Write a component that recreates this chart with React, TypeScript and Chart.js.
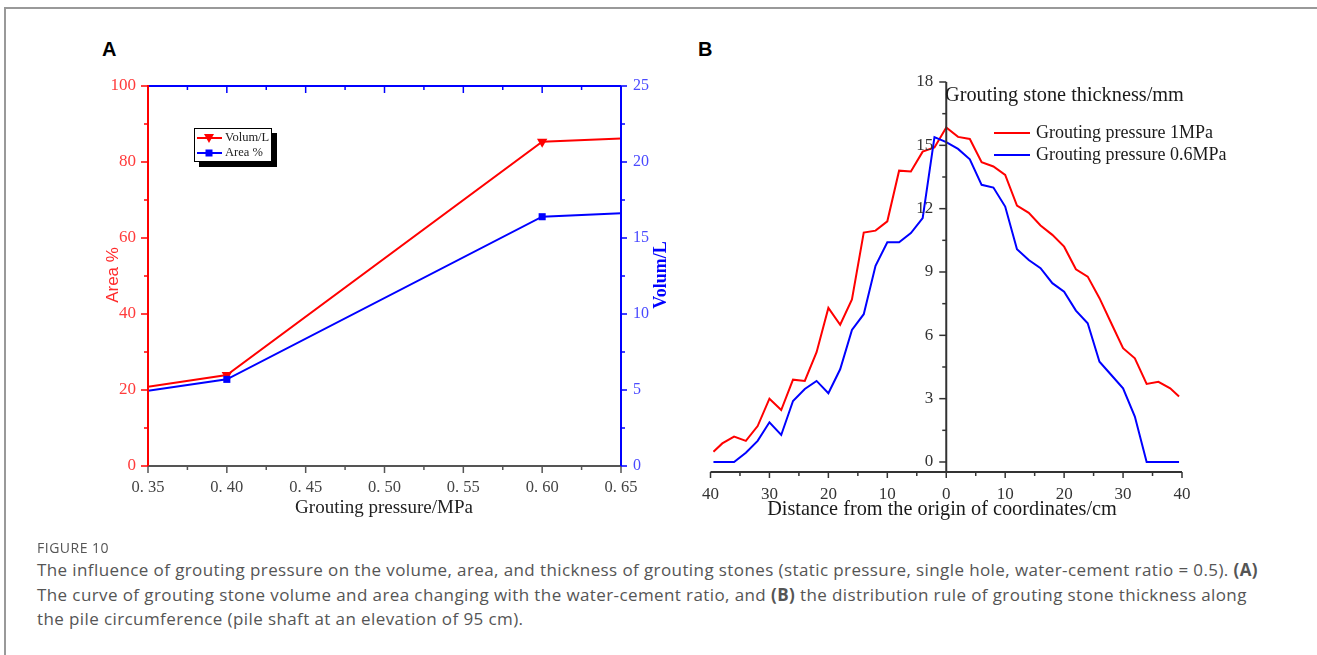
import React, { useEffect, useRef } from 'react';
import { Chart, registerables } from 'chart.js';

Chart.register(...registerables);

const SERIF = "'Liberation Serif', 'Times New Roman', serif";
const SANS = "'Liberation Sans', Arial, sans-serif";
const RED = '#ff0000';
const BLUE = '#0000ff';

// ---------- Panel A data ----------
const PRESSURE_MPA = [0.35, 0.4, 0.6, 0.65];
const AREA_PCT = [19.8, 22.8, 65.6, 66.5];
const VOLUME_L = [5.22, 5.98, 21.33, 21.55];
const A_X_TICKS = [0.35, 0.4, 0.45, 0.5, 0.55, 0.6, 0.65];
const A_AREA_TICKS = [0, 20, 40, 60, 80, 100];
const A_VOLUME_TICKS = [0, 5, 10, 15, 20, 25];

// ---------- Panel B data ----------
const DISTANCE_CM = [
  -39.5, -38, -36, -34, -32, -30, -28, -26, -24, -22, -20, -18, -16, -14, -12, -10, -8, -6, -4, -2,
  0, 2, 4, 6, 8, 10, 12, 14, 16, 18, 20, 22, 24, 26, 28, 30, 32, 34, 36, 38, 39.5,
];
const THICK_1MPA = [
  0.49, 0.88, 1.2, 1.0, 1.7, 3.0, 2.46, 3.9, 3.84, 5.2, 7.3, 6.5, 7.7, 10.87, 10.96, 11.4, 13.8, 13.76, 14.7, 14.9,
  15.85, 15.4, 15.3, 14.2, 14.0, 13.6, 12.15, 11.8, 11.2, 10.76, 10.2, 9.13, 8.78, 7.76, 6.57, 5.39, 4.91, 3.7, 3.8, 3.49, 3.1,
];
const THICK_06MPA = [
  0, 0, 0, 0.44, 1.0, 1.88, 1.28, 2.89, 3.46, 3.84, 3.26, 4.39, 6.26, 7.0, 9.29, 10.41, 10.41, 10.84, 11.55, 15.39,
  15.15, 14.83, 14.34, 13.13, 13.0, 12.1, 10.08, 9.57, 9.18, 8.47, 8.07, 7.17, 6.57, 4.75, 4.12, 3.49, 2.15, 0, 0, 0, 0,
];
const B_X_TICKS = [-40, -30, -20, -10, 0, 10, 20, 30, 40];
const B_Y_TICKS = [0, 3, 6, 9, 12, 15, 18];

const A_LEFT = 60, A_TOP = 60, A_W = 660, A_H = 480;
const B_LEFT = 690, B_TOP = 60, B_W = 560, B_H = 480;

function line(ctx: CanvasRenderingContext2D, x1: number, y1: number, x2: number, y2: number) {
  ctx.beginPath();
  ctx.moveTo(x1, y1);
  ctx.lineTo(x2, y2);
  ctx.stroke();
}

function text(
  ctx: CanvasRenderingContext2D, s: string, x: number, y: number, font: string, color: string,
  align: CanvasTextAlign = 'center', rot = 0,
) {
  ctx.save();
  ctx.translate(x, y);
  ctx.rotate(rot);
  ctx.font = font;
  ctx.fillStyle = color;
  ctx.textAlign = align;
  ctx.textBaseline = 'middle';
  ctx.fillText(s, 0, 0);
  ctx.restore();
}

const panelAPlugin = {
  id: 'panelA',
  afterDraw(chart: any) {
    const { ctx, chartArea: a, scales } = chart;
    const xs = scales.x, ys = scales.y, y2 = scales.y2;
    ctx.save();
    ctx.lineCap = 'butt';
    // bottom axis
    ctx.strokeStyle = '#555';
    ctx.lineWidth = 2;
    line(ctx, a.left, a.bottom, a.right, a.bottom);
    ctx.lineWidth = 1.5;
    for (let i = 0; i <= 12; i++) {
      const v = 0.35 + i * 0.025;
      const px = xs.getPixelForValue(v);
      line(ctx, px, a.bottom, px, a.bottom + (i % 2 === 0 ? 7 : 4));
    }
    // top axis (blue, inward ticks)
    ctx.strokeStyle = BLUE;
    ctx.lineWidth = 2;
    line(ctx, a.left, a.top, a.right, a.top);
    ctx.lineWidth = 1.5;
    for (let i = 0; i <= 12; i++) {
      const v = 0.35 + i * 0.025;
      const px = xs.getPixelForValue(v);
      line(ctx, px, a.top, px, a.top + (i % 2 === 0 ? 7 : 4));
    }
    // right axis (blue)
    ctx.lineWidth = 2;
    line(ctx, a.right, a.top, a.right, a.bottom);
    ctx.lineWidth = 1.5;
    for (let i = 0; i <= 10; i++) {
      const py = y2.getPixelForValue(i * 2.5);
      line(ctx, a.right, py, a.right + (i % 2 === 0 ? 6 : 4), py);
    }
    // left axis (red)
    ctx.strokeStyle = RED;
    ctx.lineWidth = 2;
    line(ctx, a.left, a.top - 1, a.left, a.bottom);
    ctx.lineWidth = 1.5;
    for (let i = 0; i <= 10; i++) {
      const py = ys.getPixelForValue(i * 10);
      line(ctx, a.left - (i % 2 === 0 ? 7 : 4), py, a.left, py);
    }
    // axis titles
    text(ctx, 'Area %', 113 - A_LEFT, 275 - A_TOP, `17px ${SANS}`, '#ff2a2a', 'center', -Math.PI / 2);
    text(ctx, 'Volum/L', 661 - A_LEFT, 275 - A_TOP, `bold 18px ${SERIF}`, BLUE, 'center', -Math.PI / 2);
    text(ctx, 'Grouting pressure/MPa', 384 - A_LEFT, 508 - A_TOP, `19px ${SERIF}`, '#222', 'center');
    // legend box with shadow
    const bx = 194 - A_LEFT, by = 128 - A_TOP, bw = 78, bh = 34;
    ctx.fillStyle = '#000';
    ctx.fillRect(bx + 5, by + 5, bw, bh);
    ctx.fillStyle = '#fff';
    ctx.fillRect(bx, by, bw, bh);
    ctx.strokeStyle = '#000';
    ctx.lineWidth = 1;
    ctx.strokeRect(bx + 0.5, by + 0.5, bw - 1, bh - 1);
    const rows = [
      { label: 'Volum/L', color: RED, y: by + 10, marker: 'tri' },
      { label: 'Area %', color: BLUE, y: by + 25, marker: 'sq' },
    ];
    rows.forEach((r) => {
      ctx.strokeStyle = r.color;
      ctx.lineWidth = 2;
      line(ctx, bx + 3, r.y, bx + 28, r.y);
      ctx.fillStyle = r.color;
      const mx = bx + 15;
      if (r.marker === 'tri') {
        ctx.beginPath();
        ctx.moveTo(mx - 5, r.y - 4);
        ctx.lineTo(mx + 5, r.y - 4);
        ctx.lineTo(mx, r.y + 5);
        ctx.closePath();
        ctx.fill();
      } else {
        ctx.fillRect(mx - 3.5, r.y - 3.5, 7, 7);
      }
      text(ctx, r.label, bx + 31, r.y, `12.5px ${SERIF}`, '#222', 'left');
    });
    ctx.restore();
  },
};

const panelBPlugin = {
  id: 'panelB',
  afterDraw(chart: any) {
    const { ctx, chartArea: a, scales } = chart;
    const xs = scales.x, ys = scales.y;
    const x0 = xs.getPixelForValue(0);
    ctx.save();
    ctx.strokeStyle = '#333';
    ctx.lineWidth = 2;
    line(ctx, a.left, a.bottom, a.right, a.bottom);
    ctx.lineWidth = 1.5;
    for (let i = 0; i <= 16; i++) {
      const v = -40 + i * 5;
      const px = xs.getPixelForValue(v);
      line(ctx, px, a.bottom, px, a.bottom + (i % 2 === 0 ? 6 : 4));
    }
    ctx.lineWidth = 2;
    line(ctx, x0, ys.getPixelForValue(18), x0, a.bottom);
    ctx.lineWidth = 1.5;
    for (let i = 0; i <= 12; i++) {
      const py = ys.getPixelForValue(i * 1.5);
      line(ctx, x0 - (i % 2 === 0 ? 7 : 4), py, x0, py);
    }
    B_Y_TICKS.forEach((v) => {
      text(ctx, String(v), x0 - 13, ys.getPixelForValue(v), `17px ${SERIF}`, '#333', 'right');
    });
    text(ctx, 'Grouting stone thickness/mm', 945 - B_LEFT, 96 - B_TOP, `20.3px ${SERIF}`, '#1a1a1a', 'left');
    const leg = [
      { label: 'Grouting pressure 1MPa', color: RED, y: 133 - B_TOP },
      { label: 'Grouting pressure 0.6MPa', color: BLUE, y: 155 - B_TOP },
    ];
    leg.forEach((r) => {
      ctx.strokeStyle = r.color;
      ctx.lineWidth = 2;
      line(ctx, 994 - B_LEFT, r.y, 1030 - B_LEFT, r.y);
      text(ctx, r.label, 1036 - B_LEFT, r.y, `18px ${SERIF}`, '#1a1a1a', 'left');
    });
    text(ctx, 'Distance from the origin of coordinates/cm', 942 - B_LEFT, 510 - B_TOP, `20.3px ${SERIF}`, '#1a1a1a', 'center');
    ctx.restore();
  },
};

function ChartA() {
  const ref = useRef<HTMLCanvasElement | null>(null);
  useEffect(() => {
    if (!ref.current) return;
    const noGrid = { display: false, drawTicks: false };
    const chart = new Chart(ref.current, {
      type: 'line',
      data: {
        datasets: [
          {
            label: 'Area %',
            data: PRESSURE_MPA.map((p, i) => ({ x: p, y: AREA_PCT[i] })),
            yAxisID: 'y',
            borderColor: BLUE,
            backgroundColor: BLUE,
            borderWidth: 2,
            pointStyle: 'rect',
            pointRadius: [0, 5, 5, 0],
            pointBorderWidth: 0,
            tension: 0,
          },
          {
            label: 'Volum/L',
            data: PRESSURE_MPA.map((p, i) => ({ x: p, y: VOLUME_L[i] })),
            yAxisID: 'y2',
            borderColor: RED,
            backgroundColor: RED,
            borderWidth: 2,
            pointStyle: 'triangle',
            pointRotation: 180,
            pointRadius: [0, 6, 6, 0],
            pointBorderWidth: 0,
            tension: 0,
          },
        ],
      } as any,
      options: {
        animation: false,
        responsive: false,
        events: [],
        layout: { padding: { top: 26, left: 0, right: 0, bottom: 0 } },
        plugins: { legend: { display: false }, tooltip: { enabled: false } },
        scales: {
          x: {
            type: 'linear',
            position: 'bottom',
            min: 0.35,
            max: 0.65,
            afterBuildTicks: (s: any) => { s.ticks = A_X_TICKS.map((v) => ({ value: v })); },
            afterFit: (s: any) => { s.height = 74; },
            grid: noGrid,
            border: { display: false },
            ticks: {
              padding: 12,
              color: '#444',
              font: { family: SERIF, size: 16.5 },
              maxRotation: 0,
              autoSkip: false,
              callback: (v: any) => Number(v).toFixed(2).replace('.', '. '),
            },
          },
          y: {
            position: 'left',
            min: 0,
            max: 100,
            afterBuildTicks: (s: any) => { s.ticks = A_AREA_TICKS.map((v) => ({ value: v })); },
            afterFit: (s: any) => { s.width = 88; },
            grid: noGrid,
            border: { display: false },
            ticks: { padding: 12, color: '#ff3b3b', font: { family: SERIF, size: 17 } },
          },
          y2: {
            position: 'right',
            min: 0,
            max: 25,
            afterBuildTicks: (s: any) => { s.ticks = A_VOLUME_TICKS.map((v) => ({ value: v })); },
            afterFit: (s: any) => { s.width = 99; },
            grid: noGrid,
            border: { display: false },
            ticks: { padding: 12, color: '#4a4aff', font: { family: SERIF, size: 16 } },
          },
        },
      } as any,
      plugins: [panelAPlugin],
    });
    return () => chart.destroy();
  }, []);
  return (
    <canvas
      ref={ref}
      width={A_W}
      height={A_H}
      style={{ position: 'absolute', left: A_LEFT, top: A_TOP, width: A_W, height: A_H }}
    />
  );
}

function ChartB() {
  const ref = useRef<HTMLCanvasElement | null>(null);
  useEffect(() => {
    if (!ref.current) return;
    const chart = new Chart(ref.current, {
      type: 'line',
      data: {
        datasets: [
          {
            label: 'Grouting pressure 0.6MPa',
            data: DISTANCE_CM.map((d, i) => ({ x: d, y: THICK_06MPA[i] })),
            borderColor: BLUE,
            borderWidth: 2,
            pointRadius: 0,
            tension: 0,
          },
          {
            label: 'Grouting pressure 1MPa',
            data: DISTANCE_CM.map((d, i) => ({ x: d, y: THICK_1MPA[i] })),
            borderColor: RED,
            borderWidth: 2,
            pointRadius: 0,
            tension: 0,
          },
        ],
      } as any,
      options: {
        animation: false,
        responsive: false,
        events: [],
        layout: { padding: { left: 12, right: 68, top: 22, bottom: 0 } },
        plugins: { legend: { display: false }, tooltip: { enabled: false } },
        scales: {
          x: {
            type: 'linear',
            position: 'bottom',
            min: -40,
            max: 40,
            afterBuildTicks: (s: any) => { s.ticks = B_X_TICKS.map((v) => ({ value: v })); },
            afterFit: (s: any) => { s.height = 68; },
            grid: { display: false, drawTicks: false },
            border: { display: false },
            ticks: {
              padding: 12,
              color: '#333',
              font: { family: SERIF, size: 17 },
              maxRotation: 0,
              autoSkip: false,
              callback: (v: any) => String(Math.abs(Number(v))),
            },
          },
          y: { display: false, min: -0.474, max: 18 },
        },
      } as any,
      plugins: [panelBPlugin],
    });
    return () => chart.destroy();
  }, []);
  return (
    <canvas
      ref={ref}
      width={B_W}
      height={B_H}
      style={{ position: 'absolute', left: B_LEFT, top: B_TOP, width: B_W, height: B_H }}
    />
  );
}

export default function App() {
  const cap: React.CSSProperties = {
    position: 'absolute',
    left: 37,
    whiteSpace: 'nowrap',
    fontFamily: '"Open Sans", Lato, sans-serif',
    fontSize: 17,
    lineHeight: '20px',
    letterSpacing: '0.4px',
    color: '#555',
  };
  return (
    <div style={{ position: 'absolute', left: 0, top: 0, width: 1317, height: 655, overflow: 'hidden', background: '#fff' }}>
      <div
        style={{
          position: 'absolute', left: 4, top: 7, width: 1313, height: 648, boxSizing: 'border-box',
          borderLeft: '2px solid #999', borderTop: '2px solid #999',
        }}
      />
      <div style={{ position: 'absolute', left: 102, top: 39, font: `bold 20px ${SANS}`, lineHeight: '20px', color: '#000' }}>A</div>
      <div style={{ position: 'absolute', left: 698, top: 39, font: `bold 20px ${SANS}`, lineHeight: '20px', color: '#000' }}>B</div>
      <ChartA />
      <ChartB />
      <div style={{ ...cap, top: 538, fontSize: 14, letterSpacing: '0.5px', color: '#555' }}>FIGURE 10</div>
      <div style={{ ...cap, top: 560 }}>
        The influence of grouting pressure on the volume, area, and thickness of grouting stones (static pressure, single hole, water-cement ratio = 0.5). <b>(A)</b>
      </div>
      <div style={{ ...cap, top: 585 }}>
        The curve of grouting stone volume and area changing with the water-cement ratio, and <b>(B)</b> the distribution rule of grouting stone thickness along
      </div>
      <div style={{ ...cap, top: 609 }}>
        the pile circumference (pile shaft at an elevation of 95 cm).
      </div>
    </div>
  );
}
